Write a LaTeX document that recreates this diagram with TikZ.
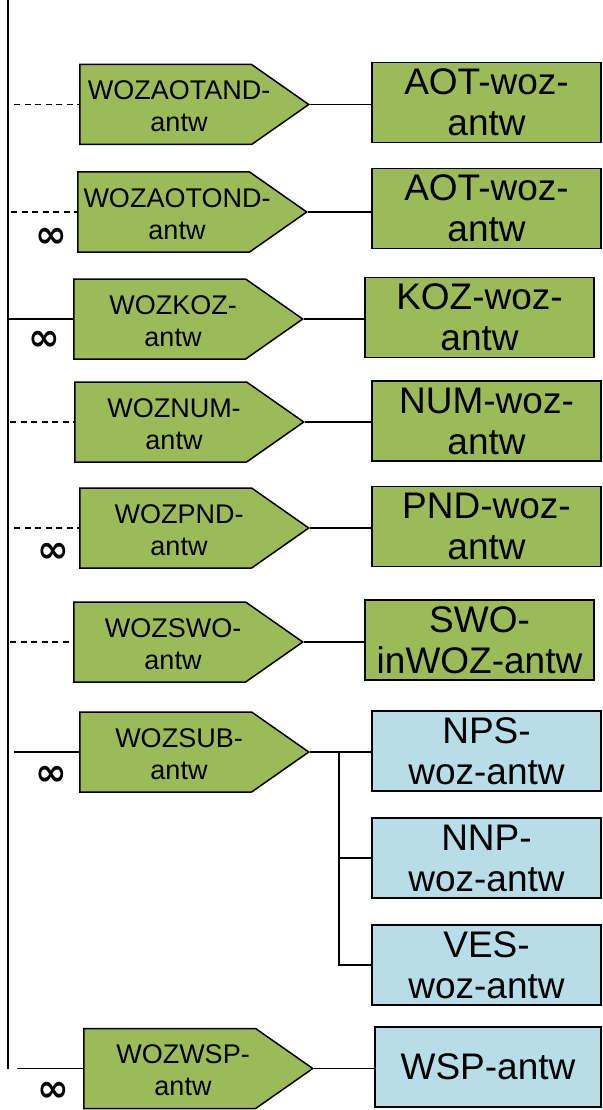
\documentclass[tikz,border=0pt]{standalone}
\usepackage{fontspec}
\setmainfont{Liberation Sans}
\newfontfamily\inffont{DejaVu Sans}
\usetikzlibrary{shapes.symbols}
\definecolor{pgreen}{HTML}{9BBB59}
\definecolor{pcyan}{HTML}{B7DEE8}
\begin{document}
\begin{tikzpicture}[x=1pt,y=-1pt,
 pent/.style={signal, signal to=east, signal from=nowhere, signal pointer angle=70, draw=black, fill=pgreen, line width=1.5pt, minimum width=229pt, minimum height=80pt, inner sep=0pt, anchor=west},
 ptext/.style={align=center, font=\fontsize{27}{32}\selectfont, inner sep=0pt},
 gbox/.style={draw=black, fill=pgreen, line width=1.5pt, minimum width=229pt, minimum height=80pt, inner sep=0pt, align=center, font=\fontsize{37}{41}\selectfont},
 cbox/.style={gbox, fill=pcyan},
 conn/.style={line width=1.3pt},
 dconn/.style={conn, dash pattern=on 6pt off 4.5pt},
 inf/.style={font=\inffont\bfseries\fontsize{38}{38}\selectfont, inner sep=0pt}
]
\useasboundingbox (0,0) rectangle (602,1110);

% pentagons
\node[pent] (p1) at (79,104.5) {};
\node[pent] (p2) at (77,212) {};
\node[pent] (p3) at (73,319) {};
\node[pent] (p4) at (74,422) {};
\node[pent] (p5) at (79,528) {};
\node[pent] (p6) at (73,642) {};
\node[pent] (p7) at (79,752) {};
\node[pent] (p8) at (83,1068.5) {};

\node[ptext] (t1) at (179,106.5) {WOZAOTAND-\\antw};
\node[ptext] (t2) at (177,214) {WOZAOTOND-\\antw};
\node[ptext] (t3) at (173,321) {WOZKOZ-\\antw};
\node[ptext] (t4) at (174,424) {WOZNUM-\\antw};
\node[ptext] (t5) at (179,530) {WOZPND-\\antw};
\node[ptext] (t6) at (173,644) {WOZSWO-\\antw};
\node[ptext] (t7) at (179,754) {WOZSUB-\\antw};
\node[ptext] (t8) at (183,1070.5) {WOZWSP-\\antw};

% boxes
\node[gbox] (b1) at (486.5,102.5) {AOT-woz-\\antw};
\node[gbox] (b2) at (486.5,208.5) {AOT-woz-\\antw};
\node[gbox] (b3) at (479.5,317.5) {KOZ-woz-\\antw};
\node[gbox] (b4) at (486.5,421) {NUM-woz-\\antw};
\node[gbox] (b5) at (486.5,526.5) {PND-woz-\\antw};
\node[gbox] (b6) at (479.5,640) {SWO-\\inWOZ-antw};
\node[cbox] (b7a) at (486.5,751) {NPS-\\woz-antw};
\node[cbox] (b7b) at (486.5,858) {NNP-\\woz-antw};
\node[cbox] (b7c) at (486.5,965) {VES-\\woz-antw};
\node[cbox, minimum width=226pt] (b8) at (488,1067) {WSP-antw};

% infinity labels
\node[inf] (i2) at (51,238) {∞};
\node[inf] (i3) at (44,341) {∞};
\node[inf] (i5) at (53,553) {∞};
\node[inf] (i7) at (51,776) {∞};
\node[inf] (i8) at (53,1092) {∞};

% main vertical line
\coordinate (top) at (8,0);
\draw[line width=2pt] (top) -- (top |- p8.west);

% left connectors
\coordinate (s1) at (14,0);
\coordinate (s2) at (11,0);
\coordinate (s3) at (8,0);
\coordinate (s4) at (10,0);
\coordinate (s5) at (14,0);
\coordinate (s6) at (10,0);
\coordinate (s7) at (14,0);
\coordinate (s8) at (17,0);
\draw[dconn] (s1 |- p1.west) -- (p1.west);
\draw[dconn] (s2 |- p2.west) -- (p2.west);
\draw[conn] (s3 |- p3.west) -- (p3.west);
\draw[dconn] (s4 |- p4.west) -- (p4.west);
\draw[dconn] (s5 |- p5.west) -- (p5.west);
\draw[dconn] (s6 |- p6.west) -- (p6.west);
\draw[conn] (s7 |- p7.west) -- (p7.west);
\draw[conn] (s8 |- p8.west) -- (p8.west);

% right connectors
\draw[conn] (p1.east) -- (p1.east -| b1.west);
\draw[conn] (p2.east) -- (p2.east -| b2.west);
\draw[conn] (p3.east) -- (p3.east -| b3.west);
\draw[conn] (p4.east) -- (p4.east -| b4.west);
\draw[conn] (p5.east) -- (p5.east -| b5.west);
\draw[conn] (p6.east) -- (p6.east -| b6.west);
\draw[conn] (p7.east) -- (p7.east -| b7a.west);
\draw[conn] (p8.east) -- (p8.east -| b8.west);
\path (p7.east) ++(29,0) coordinate (j7);
\draw[conn] (j7) |- (b7c.west);
\draw[conn] (j7 |- b7b.west) -- (b7b.west);
\end{tikzpicture}
\end{document}
